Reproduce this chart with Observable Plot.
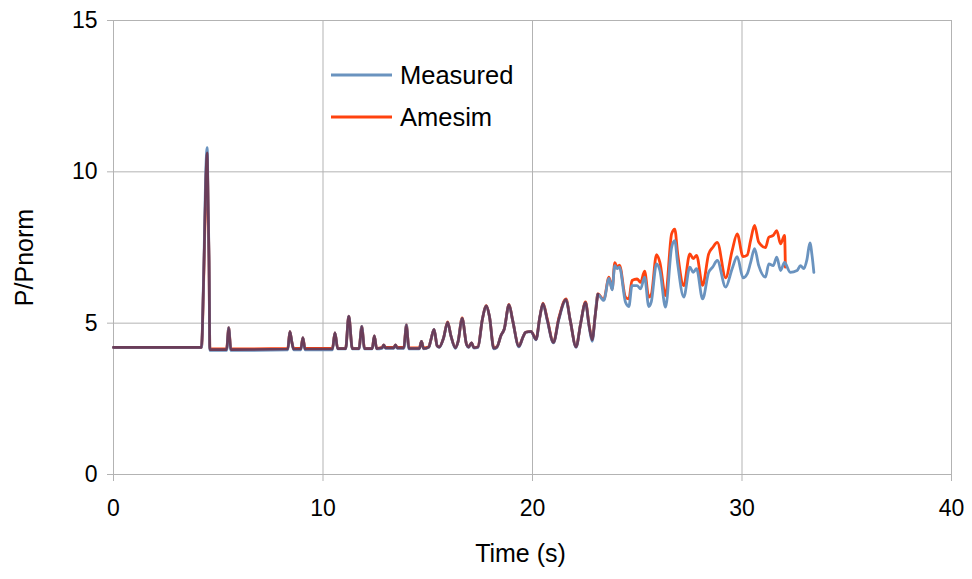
<!DOCTYPE html>
<html>
<head>
<meta charset="utf-8">
<script src="https://cdn.jsdelivr.net/npm/d3@7"></script>
<script src="https://cdn.jsdelivr.net/npm/@observablehq/plot@0.6"></script>
<style>
  html, body { margin: 0; padding: 0; background: #fff; }
  #wrap { position: relative; width: 972px; height: 579px; font-family: "Liberation Sans", Arial, sans-serif; }
  #legend { position: absolute; left: 331px; top: 54px; font-size: 25.5px; color: #000; }
  #legend .row { display: flex; align-items: center; height: 42px; }
  #legend svg { margin-right: 8px; }
</style>
</head>
<body>
<div id="wrap">
  <div id="chart"></div>
  <div id="legend"></div>
</div>
<script>
// Time (s)
const time = [
  0, 4.2, 4.3, 4.42, 4.47, 4.52, 4.56, 4.6, 5.4, 5.5, 5.6,
  8.32, 8.42, 8.52, 8.6, 8.94, 9.04, 9.14, 10.45, 10.57, 10.7,
  11.08, 11.23, 11.4, 11.72, 11.85, 11.98, 12.35, 12.45, 12.56,
  12.82, 12.9, 12.98, 13.38, 13.46, 13.54, 13.86, 13.98, 14.1,
  14.6, 14.7, 14.8, 15.05, 15.15, 15.3, 15.45, 15.55, 15.75, 15.95,
  16.1, 16.32, 16.45, 16.64, 16.85, 16.95, 17.09, 17.2, 17.4, 17.6,
  17.8, 17.95, 18.15, 18.3, 18.5, 18.65, 18.88, 19.05, 19.35, 19.55,
  19.67, 19.93, 20.17, 20.35, 20.5, 20.7, 21.0, 21.25, 21.6, 21.8,
  22.08, 22.3, 22.53, 22.7, 22.85, 23.0, 23.12, 23.4, 23.65, 23.8,
  23.93, 24.04, 24.15, 24.44, 24.6, 24.75, 24.99, 25.16, 25.35, 25.55,
  25.67, 25.92, 26.08, 26.35, 26.64, 26.79, 26.93, 27.22, 27.51, 27.67,
  27.83, 28.12, 28.41, 28.6, 28.82, 29.22, 29.53, 29.77, 30.05, 30.25,
  30.41, 30.6, 30.8, 31.12, 31.28, 31.49, 31.66, 31.84, 32.03, 32.07,
  32.3, 32.63, 32.79, 32.95, 33.1, 33.24, 33.35, 33.43
];
// Measured P/Pnorm
const measured = [
  4.2, 4.2, 6.5, 10.3, 10.8, 8.8, 7.1, 4.1, 4.1, 4.85, 4.1,
  4.12, 4.72, 4.35, 4.12, 4.12, 4.52, 4.12, 4.12, 4.68, 4.15,
  4.15, 5.23, 4.15, 4.15, 4.89, 4.15, 4.15, 4.58, 4.15,
  4.17, 4.28, 4.17, 4.17, 4.28, 4.17, 4.17, 4.94, 4.15,
  4.15, 4.4, 4.15, 4.2, 4.45, 4.79, 4.25, 4.2, 4.5, 5.02,
  4.6, 4.17, 4.4, 5.15, 4.3, 4.2, 4.35, 4.18, 4.2, 5.1,
  5.56, 5.2, 4.15, 4.2, 4.6, 4.8, 5.6, 5.1, 4.22, 4.55,
  4.7, 4.72, 4.45, 5.2, 5.64, 5.1, 4.35, 5.1, 5.76, 5.1,
  4.2, 5.0, 5.66, 4.9, 4.4, 5.3, 5.95, 5.75, 6.48, 6.1,
  6.9, 6.8, 6.85, 5.69, 5.55, 6.24, 6.24, 6.13, 6.52, 5.55,
  5.7, 6.96, 6.74, 5.53, 7.5, 7.73, 6.96, 5.86, 6.85, 6.68,
  6.8, 5.8, 6.68, 6.85, 7.07, 6.19, 6.8, 7.2, 6.5, 6.63,
  7.0, 7.46, 6.9, 6.52, 6.96, 6.9, 7.18, 6.74, 7.01, 6.98,
  6.68, 6.74, 6.9, 6.8, 7.1, 7.65, 7.2, 6.68
];
// Amesim P/Pnorm (simulation ends near 32 s)
const amesim = [
  4.2, 4.2, 6.3, 9.8, 10.45, 8.6, 7.0, 4.15, 4.15, 4.85, 4.15,
  4.17, 4.72, 4.35, 4.17, 4.17, 4.52, 4.17, 4.17, 4.68, 4.17,
  4.17, 5.23, 4.17, 4.17, 4.89, 4.17, 4.17, 4.58, 4.17,
  4.2, 4.28, 4.2, 4.2, 4.28, 4.2, 4.2, 4.94, 4.18,
  4.18, 4.4, 4.18, 4.22, 4.45, 4.79, 4.25, 4.22, 4.5, 5.04,
  4.6, 4.2, 4.4, 5.17, 4.3, 4.22, 4.35, 4.2, 4.22, 5.1,
  5.58, 5.2, 4.2, 4.22, 4.6, 4.8, 5.62, 5.1, 4.25, 4.55,
  4.7, 4.73, 4.48, 5.2, 5.66, 5.15, 4.37, 5.15, 5.8, 5.1,
  4.23, 5.0, 5.7, 4.95, 4.5, 5.3, 5.97, 5.78, 6.52, 6.13,
  7.0, 6.85, 6.92, 5.86, 5.8, 6.41, 6.46, 6.35, 6.72, 5.86,
  5.95, 7.26, 7.01, 5.91, 7.95, 8.11, 7.29, 6.24, 7.29, 7.13,
  7.24, 6.25, 7.29, 7.5, 7.67, 6.5, 7.4, 7.95, 7.2, 7.25,
  7.73, 8.23, 7.67, 7.5, 7.84, 7.9, 8.06, 7.62, 7.9, 6.85,
  null, null, null, null, null, null, null, null
];
const seriesNames = ["Measured", "Amesim"];
const seriesColors = ["#6a93bf", "#ff420e"];
const overlapColor = "#6a3d59";
const overlapEnd = 23.2;
const xTicks = [0, 10, 20, 30, 40];
const yTicks = [0, 5, 10, 15];

const rowsM = time.map((t, i) => ({t, v: measured[i]}));
const rowsA = time.map((t, i) => ({t, v: amesim[i]})).filter(d => d.v != null);
const rowsO = time.map((t, i) => ({t, v: amesim[i] == null ? null : (measured[i] + amesim[i]) / 2}))
  .filter(d => d.v != null && d.t <= overlapEnd);

const grid = "#b3b3b3";
const chart = Plot.plot({
  width: 972,
  height: 579,
  marginLeft: 113,
  marginRight: 21,
  marginTop: 20,
  marginBottom: 105,
  style: {fontFamily: "Liberation Sans, Arial, sans-serif", fontSize: "23px", color: "#000", background: "#fff"},
  x: {domain: [0, 40], ticks: xTicks, label: null},
  y: {domain: [0, 15], ticks: yTicks, label: null},
  marks: [
    Plot.gridX(xTicks, {stroke: grid, strokeOpacity: 1, strokeWidth: 1}),
    Plot.gridY(yTicks, {stroke: grid, strokeOpacity: 1, strokeWidth: 1}),
    Plot.axisX(xTicks, {tickSize: 7, tickPadding: 18, stroke: grid, label: null, fontSize: 23}),
    Plot.axisY(yTicks, {tickSize: 6, tickPadding: 10, stroke: grid, label: null, fontSize: 23}),
    Plot.text(["Time (s)"], {frameAnchor: "bottom", dy: 87, dx: -12, fontSize: 25, fill: "#000", textAnchor: "middle"}),
    Plot.text(["P/Pnorm"], {frameAnchor: "left", dx: -89, dy: 10, rotate: -90, fontSize: 25, fill: "#000", textAnchor: "middle"}),
    Plot.line(rowsA, {x: "t", y: "v", stroke: seriesColors[1], strokeWidth: 2.8, curve: "monotone-x"}),
    Plot.line(rowsM, {x: "t", y: "v", stroke: seriesColors[0], strokeWidth: 2.8, curve: "monotone-x"}),
    Plot.line(rowsO, {x: "t", y: "v", stroke: overlapColor, strokeWidth: 2.6, curve: "monotone-x"})
  ]
});
document.getElementById("chart").appendChild(chart);

const legend = document.getElementById("legend");
seriesNames.forEach((name, i) => {
  const row = document.createElement("div");
  row.className = "row";
  row.innerHTML = `<svg width="61" height="6"><line x1="0" x2="61" y1="3" y2="3" stroke="${seriesColors[i]}" stroke-width="3"/></svg><span>${name}</span>`;
  legend.appendChild(row);
});
</script>
</body>
</html>
